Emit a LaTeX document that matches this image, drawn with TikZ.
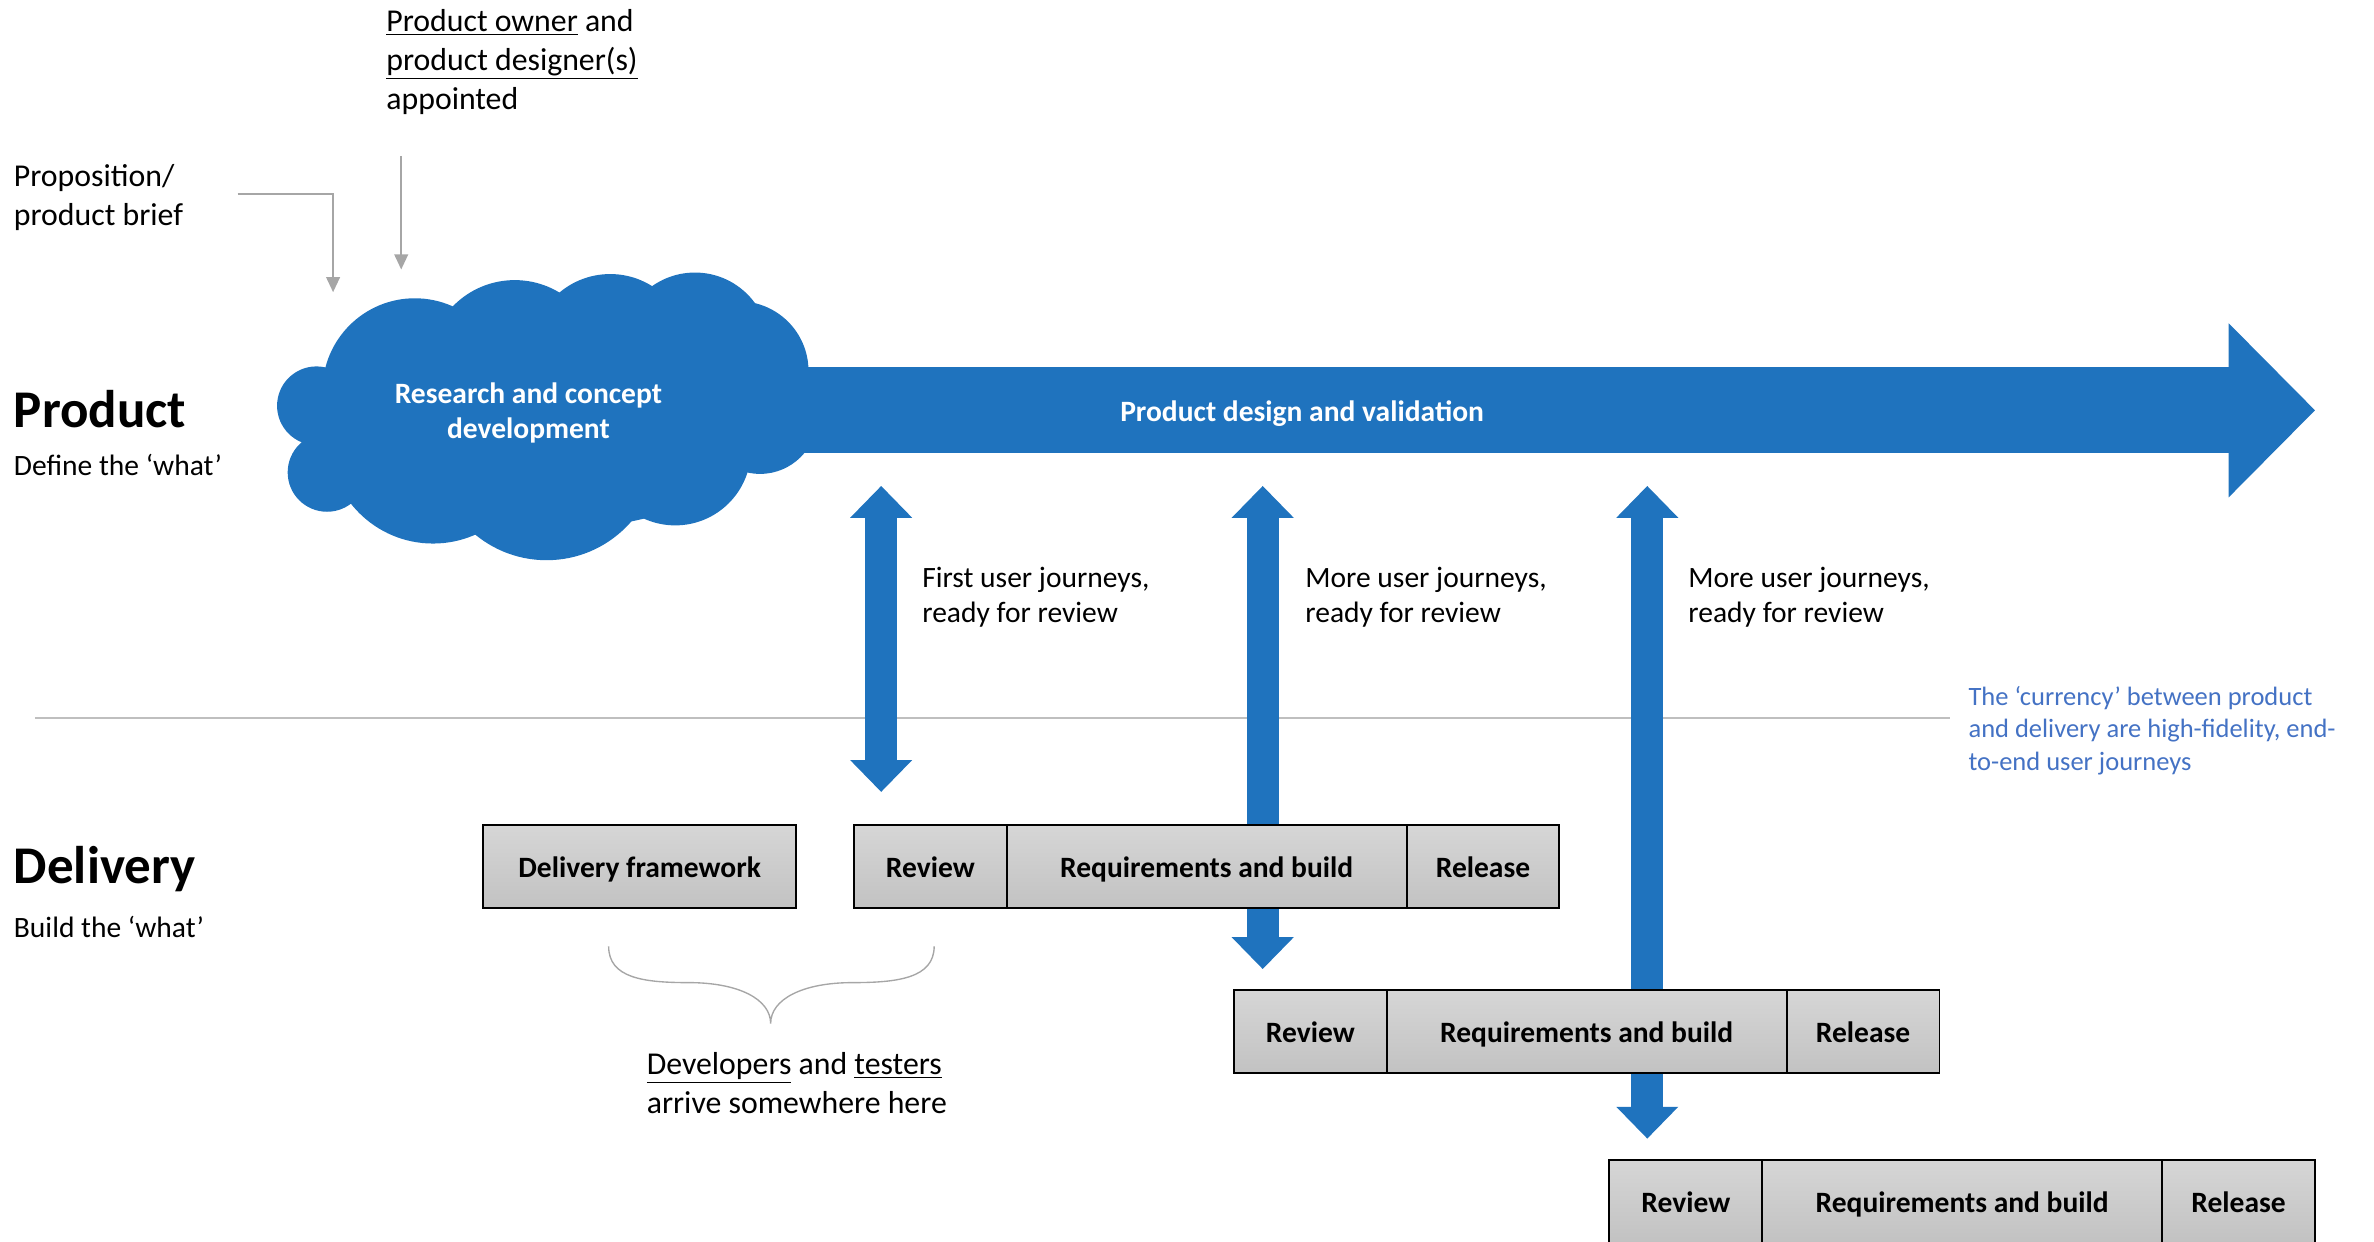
\documentclass[tikz,border=0pt]{standalone}
\usepackage{fontspec}
\setmainfont{Carlito}
\usetikzlibrary{positioning,arrows.meta}

\definecolor{prodblue}{HTML}{1F73BE}
\definecolor{noteblue}{HTML}{4472C4}
\definecolor{boxtop}{HTML}{D6D6D6}
\definecolor{boxbot}{HTML}{C2C2C2}
\definecolor{linegray}{HTML}{BFBFBF}
\definecolor{arrowgray}{HTML}{A6A6A6}

\begin{document}
\begin{tikzpicture}[x=1pt, y=-1pt,
plaintext/.style={inner sep=0pt, align=left, anchor=west, font=\fontsize{21}{25.5}\selectfont},
journeytext/.style={plaintext, font=\fontsize{19.5}{23}\selectfont},
notetext/.style={plaintext, text=noteblue, font=\fontsize{17.5}{21.3}\selectfont},
lanehead/.style={inner sep=0pt, anchor=west, font=\bfseries\fontsize{35}{40}\selectfont},
lanesub/.style={inner sep=0pt, anchor=west, font=\fontsize{19.5}{23}\selectfont},
cloudtext/.style={inner sep=0pt, align=center, text=white, font=\bfseries\fontsize{19.5}{23}\selectfont},
stagebox/.style={draw=black, line width=1.3pt, top color=boxtop, bottom color=boxbot, minimum height=55pt, outer sep=0pt, inner sep=0pt, text height=18.5pt, text depth=4pt, font=\bfseries\fontsize{19.5}{23}\selectfont},
shortbox/.style={stagebox, minimum width=101pt},
longbox/.style={stagebox, minimum width=264pt},
handover/.style={draw=prodblue, line width=21pt, {Triangle[width=41pt,length=21pt,line width=0pt]}-{Triangle[width=41pt,length=21pt,line width=0pt]}},
flow/.style={draw=prodblue, line width=57pt, -{Triangle[width=115pt,length=57pt,line width=0pt]}},
feed/.style={draw=arrowgray, line width=1.4pt, -{Triangle[width=9pt,length=10pt]}},
sepline/.style={draw=linegray, line width=1.4pt},
brace/.style={draw=arrowgray, line width=0.9pt}
]
\useasboundingbox (0,0) rectangle (1568,820);

% lane titles
\node[lanehead] (product) at (9,270) {Product};
\node[lanehead] (delivery) at (9,574) {Delivery};
\node[lanesub] (productsub) at (9,307) {Define the ‘what’};
\node[lanesub] (deliverysub) at (9,612) {Build the ‘what’};

% inputs
\node[plaintext] (brief) at (9,130.5) {Proposition/\\product brief};
\node[plaintext] (owner) at (255,41) {\underline{Product owner} and\\\underline{product designer(s)}\\appointed};
\coordinate (briefout) at (157,128);
\coordinate (cloudin1) at (220,193);
\coordinate (ownerout) at (265,103);
\coordinate (cloudin2) at (265,178);
\draw[feed] (briefout) -| (cloudin1);
\draw[feed] (ownerout) -- (cloudin2);

% product flow
\coordinate (cloudc) at (349,271);
\coordinate (flowtip) at (1529,271);
\draw[flow] (cloudc) -- (flowtip);
\fill[prodblue] (360,275) ellipse (150 and 75);
\foreach \cx/\cy/\r in {274/258/61, 340/242/57, 403/233/52, 459/229/49, 488/245/46,
  502/275/38, 446/297/50, 361/296/74, 286/290/69, 216/312/26, 209/268/26}
  \fill[prodblue] (\cx,\cy) circle (\r);
\node[cloudtext] (research) at (349,272.5) {Research and concept\\development};
\node[cloudtext] (design) at (860,273) {Product design and validation};

% product / delivery split
\node[notetext] (note) at (1300,482.5) {The ‘currency’ between product\\and delivery are high-fidelity, end-\\to-end user journeys};
\coordinate (sepstart) at (23,474);
\draw[sepline] (sepstart) -- ([xshift=-12pt]sepstart -| note.west);

% hand-overs
\coordinate (up1) at (582,321);
\coordinate (down1) at (582,523);
\coordinate (up2) at (834,321);
\coordinate (down2) at (834,640);
\coordinate (up3) at (1088,321);
\coordinate (down3) at (1088,752);
\draw[handover] (up1) -- (down1);
\draw[handover] (up2) -- (down2);
\draw[handover] (up3) -- (down3);
\node[journeytext] (journey1) at (609,394.5) {First user journeys,\\ready for review};
\node[journeytext] (journey2) at (862,394.5) {More user journeys,\\ready for review};
\node[journeytext] (journey3) at (1115,394.5) {More user journeys,\\ready for review};

% delivery
\node[stagebox, minimum width=207pt] (framework) at (422.5,572.5) {Delivery framework};
\foreach \n/\x/\y in {1/564/572.5, 2/815/681.5, 3/1063/793.5}{
  \node[shortbox, anchor=west] (review\n) at (\x,\y) {Review};
  \node[longbox, right=0pt of review\n] (build\n) {Requirements and build};
  \node[shortbox, right=0pt of build\n] (release\n) {Release};
}

\draw[brace] (402,625) .. controls (402,646) and (425,649) .. (455,649)
  .. controls (488,649) and (509,660) .. (509,676)
  .. controls (509,660) and (530,649) .. (563,649)
  .. controls (593,649) and (617,646) .. (617,625);
\node[plaintext] (arrive) at (427,715.5) {\underline{Developers} and \underline{testers}\\arrive somewhere here};

\end{tikzpicture}
\end{document}
